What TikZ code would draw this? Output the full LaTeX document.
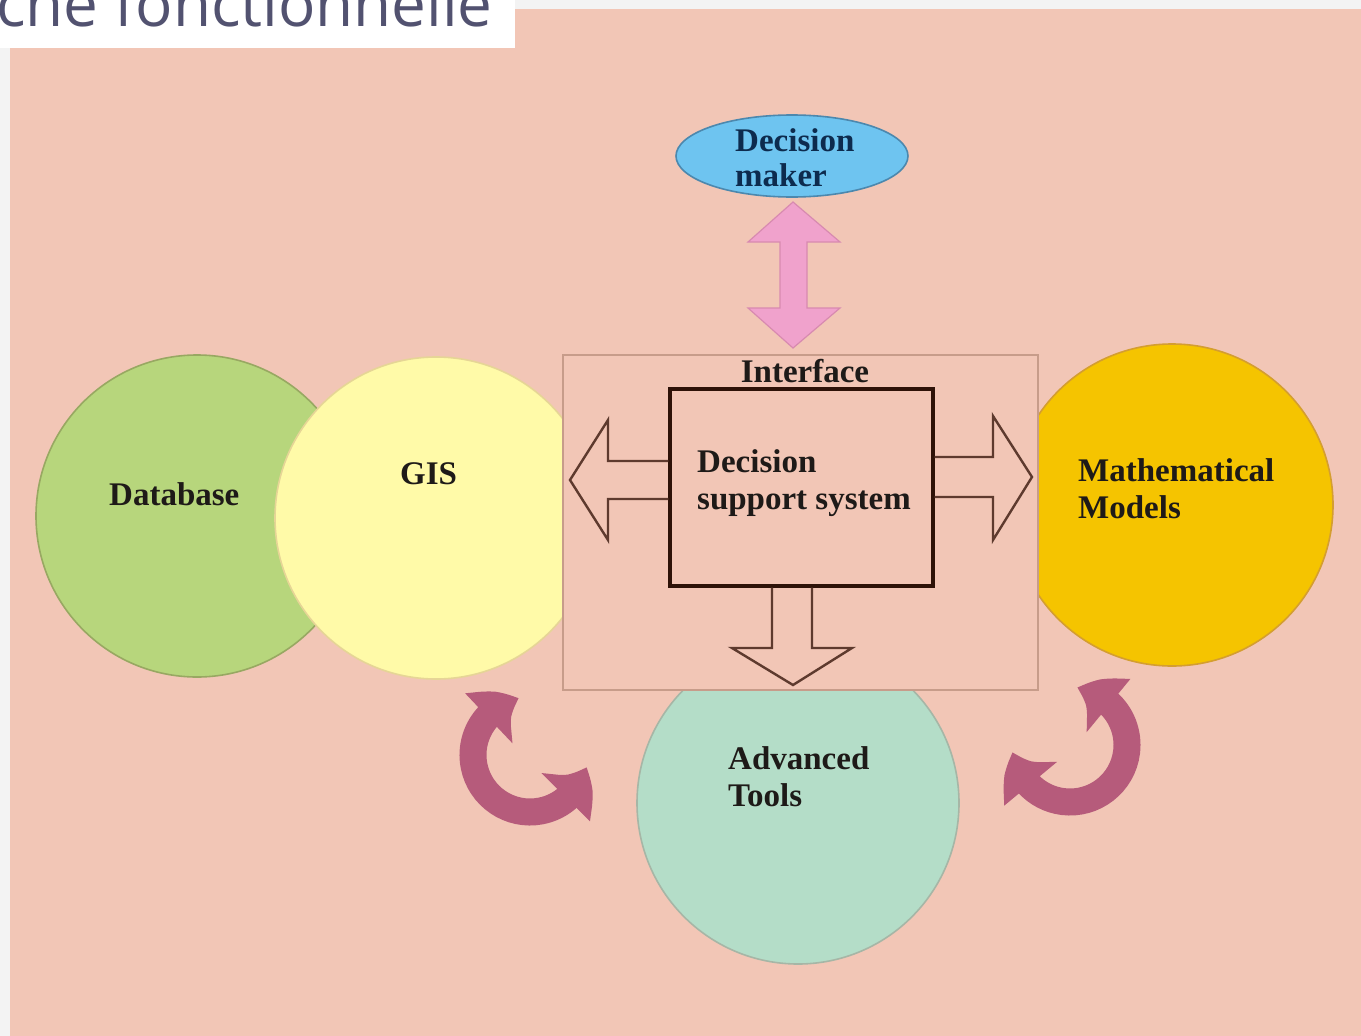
\documentclass[tikz,border=0pt]{standalone}
\usepackage{fontspec}
\setmainfont{Liberation Serif}
\newfontfamily\titlefont{Open Sans}
\usetikzlibrary{arrows.meta,bending,shapes.geometric}

\definecolor{paper}{HTML}{F3F3F3}
\definecolor{panel}{HTML}{F2C6B6}
\definecolor{titleink}{HTML}{525270}
\definecolor{dbfill}{HTML}{B7D67C}
\definecolor{dbline}{HTML}{98A862}
\definecolor{gisfill}{HTML}{FFFAA8}
\definecolor{gisline}{HTML}{E6D596}
\definecolor{mmfill}{HTML}{F5C400}
\definecolor{mmline}{HTML}{D49E30}
\definecolor{atfill}{HTML}{B4DDC8}
\definecolor{atline}{HTML}{A6B6A6}
\definecolor{ifline}{HTML}{C79C8A}
\definecolor{dssline}{HTML}{2E1208}
\definecolor{blockline}{HTML}{5E3A2E}
\definecolor{dmfill}{HTML}{6EC4F0}
\definecolor{dmline}{HTML}{4C88AE}
\definecolor{dmink}{HTML}{0D2B4E}
\definecolor{pinkfill}{HTML}{F0A2CC}
\definecolor{pinkline}{HTML}{D88AB0}
\definecolor{loopfill}{HTML}{B65B7B}
\definecolor{ink}{HTML}{1E1A18}

\tikzset{
  bubble/.style={circle, inner sep=0pt, minimum size=322pt, line width=1.6pt},
  lbl/.style={anchor=base west, inner sep=0pt, text=ink,
              font=\fontsize{33}{37}\selectfont\bfseries},
  blockarrow/.style={draw=blockline, line width=2.4pt, line join=miter},
  looparrow/.style={draw=loopfill, line width=27pt,
    {Triangle[bend,length=38pt,width=64pt]}-{Triangle[bend,length=38pt,width=64pt]}}
}

\begin{document}
\begin{tikzpicture}[x=1pt,y=-1pt]
\useasboundingbox (0,0) rectangle (1361,1036);
\clip (0,0) rectangle (1361,1036);

% page and panel
\fill[paper] (0,0) rectangle (1361,1036);
\fill[panel] (10,9) rectangle (1361,1036);

% title tab
\fill[white] (0,0) rectangle (515,48);
\node[anchor=base west, inner sep=0pt, text=titleink,
      font=\titlefont\fontsize{62}{62}\selectfont] (title) at (-4,26) {che fonctionnelle};

% component bubbles
\node[bubble, fill=dbfill, draw=dbline] (db) at (197,516) {};
\node[bubble, fill=gisfill, draw=gisline] (gis) at (436,518) {};
\node[bubble, fill=mmfill, draw=mmline] (mm) at (1172,505) {};
\node[bubble, fill=atfill, draw=atline] (at) at (798,803) {};

% interface frame
\node[draw=ifline, fill=panel, line width=1.4pt, inner sep=0pt,
      minimum width=475pt, minimum height=335pt] (iface) at (800.5,522.5) {};
\node[lbl, anchor=base] (ifacelbl) at (805,382) {Interface};

% decision support system box
\node[draw=dssline, line width=3.4pt, inner sep=0pt,
      minimum width=263pt, minimum height=197pt] (dss) at (801.5,487.5) {};
\node[lbl] (dsst1) at (697,472) {Decision};
\node[lbl] (dsst2) at (697,509) {support system};

% block arrows out of the DSS box
\draw[blockarrow] (dss.west |- 0,461) -- (608,461) -- (608,420) -- (570,480)
  -- (608,540) -- (608,499) -- (dss.west |- 0,499);
\draw[blockarrow] (dss.east |- 0,457) -- (993,457) -- (993,416) -- (1032,477)
  -- (993,540) -- (993,497) -- (dss.east |- 0,497);
\draw[blockarrow] (772,0 |- dss.south) -- (772,648) -- (732,648) -- (793,685)
  -- (852,648) -- (812,648) -- (812,0 |- dss.south);

% decision maker
\node[ellipse, fill=dmfill, draw=dmline, line width=1.6pt, inner sep=0pt,
      minimum width=232pt, minimum height=82pt] (dm) at (792,156) {};
\node[lbl, text=dmink] (dmt1) at (735,151) {Decision};
\node[lbl, text=dmink] (dmt2) at (735,186) {maker};

% two-way link between decision maker and interface
\draw[fill=pinkfill, draw=pinkline, line width=1.2pt, line join=miter]
  (793,202) -- (840,242) -- (807,242) -- (807,308) -- (840,308) -- (793,348)
  -- (748,308) -- (780,308) -- (780,242) -- (748,242) -- cycle;

% bubble labels
\node[lbl] (dbt) at (109,505) {Database};
\node[lbl] (gist) at (400,484) {GIS};
\node[lbl] (mmt1) at (1078,481) {Mathematical};
\node[lbl] (mmt2) at (1078,518) {Models};
\node[lbl] (att1) at (728,769) {Advanced};
\node[lbl] (att2) at (728,806) {Tools};

% circular exchange arrows
\coordinate (lc) at (530,755);
\coordinate (rc) at (1070,745);
\draw[looparrow] ([shift={(-101:57)}]lc) arc[start angle=-101, end angle=-348, radius=57];
\draw[looparrow] ([shift={(-83:57)}]rc) arc[start angle=-83, end angle=173, radius=57];
\end{tikzpicture}
\end{document}
